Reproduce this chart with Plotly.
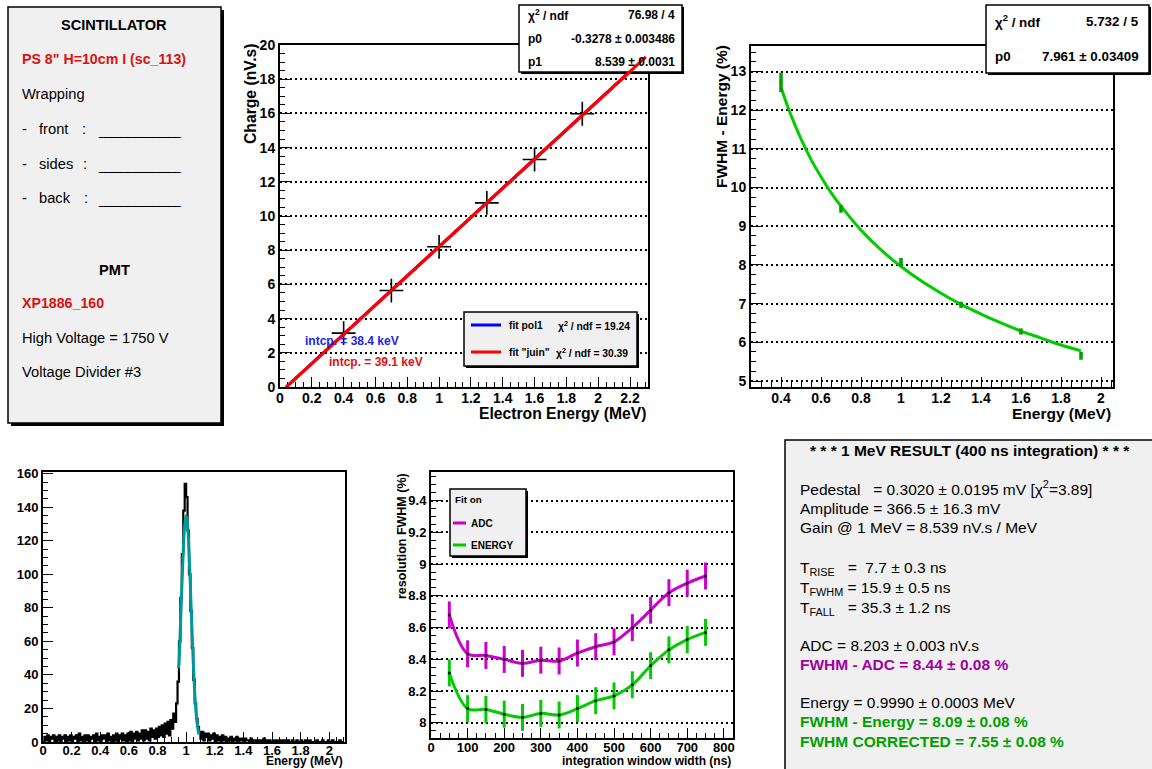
import plotly.graph_objects as go

W, H = 1152, 769
FONT = "Liberation Sans, Arial, Helvetica, sans-serif"

# ---------------- data: charge vs electron energy ----------------
calib_energy = [0.4, 0.7, 1.0, 1.3, 1.6, 1.9]
calib_charge = [3.15, 5.64, 8.20, 10.77, 13.30, 15.98]
fit_pol1_x = [0.0384, 2.30]
fit_pol1_y = [0.0, 19.31]
fit_juin_x = [0.0391, 2.30]
fit_juin_y = [0.0, 19.31]

# ---------------- data: resolution vs energy ----------------
res_energy = [0.4, 0.7, 1.0, 1.3, 1.6, 1.9]
res_fwhm = [12.72, 9.45, 8.07, 6.97, 6.28, 5.65]
res_err = [0.25, 0.10, 0.11, 0.08, 0.08, 0.10]
res_fit_x = [0.4, 0.45, 0.5, 0.55, 0.6, 0.65, 0.7, 0.8, 0.9, 1.0,
             1.1, 1.2, 1.3, 1.4, 1.5, 1.6, 1.7, 1.8, 1.9]
res_fit_y = [12.59, 11.87, 11.26, 10.73, 10.28, 9.87, 9.52, 8.90, 8.39, 7.96,
             7.59, 7.27, 6.98, 6.73, 6.50, 6.29, 6.11, 5.93, 5.78]

# ---------------- data: energy spectrum (bins of 0.01 MeV from 0) ----------------
spec_bin = 0.01
spec_counts = [
    0, 3, 1, 4, 0, 3, 2, 4, 0, 3,
    1, 4, 0, 3, 2, 4, 0, 3, 1, 4,
    0, 3, 2, 4, 0, 5, 1, 3, 0, 4,
    1, 4, 0, 3, 2, 4, 0, 5, 1, 3,
    0, 4, 2, 4, 0, 5, 1, 3, 0, 4,
    1, 5, 0, 4, 2, 5, 1, 4, 0, 5,
    1, 6, 0, 5, 2, 6, 1, 5, 2, 7,
    1, 7, 2, 6, 1, 8, 3, 7, 2, 8,
    3, 9, 4, 10, 3, 11, 5, 12, 4, 13,
    8, 17, 12, 23, 36, 60, 86, 112, 138, 154,
    146, 126, 100, 78, 56, 37, 23, 14, 9, 6,
    2, 6, 1, 5, 3, 5, 1, 4, 2, 5,
    0, 4, 1, 3, 0, 4, 1, 3, 0, 2,
    1, 3, 0, 2, 1, 3, 0, 2, 1, 2,
    0, 2, 1, 1, 0, 2, 0, 1, 1, 0,
    1, 0, 1, 0, 2, 0, 1, 0, 1, 0,
    0, 1, 0, 1, 0, 0, 1, 0, 1, 0,
    0, 1, 0, 0, 1, 0, 0, 1, 0, 0,
    1, 0, 0, 1, 0, 0, 1, 0, 0, 0,
    0, 1, 0, 0, 0, 1, 0, 0, 0, 1,
    0, 0, 1, 0, 0, 0, 0, 1, 0, 0,
]
gauss_x = [0.946, 0.95, 0.96, 0.97, 0.98, 0.99, 1.00, 1.01, 1.02, 1.03,
           1.04, 1.05, 1.06, 1.07, 1.08, 1.09]
gauss_y = [44, 47, 68.7, 92.3, 114, 129.4, 135, 129.4, 114, 92.3,
           68.7, 47, 29.5, 17.0, 9.0, 4.4]

# ---------------- data: resolution vs integration window ----------------
window_ns = [50, 100, 150, 200, 250, 300, 350, 400, 450, 500, 550, 600, 650, 700, 750]
fwhm_adc = [8.68, 8.435, 8.425, 8.40, 8.375, 8.395, 8.39, 8.44, 8.48, 8.51,
            8.60, 8.71, 8.82, 8.88, 8.925]
fwhm_energy = [8.315, 8.09, 8.085, 8.055, 8.035, 8.06, 8.05, 8.09, 8.14, 8.17,
               8.24, 8.36, 8.46, 8.525, 8.57]
fwhm_err = [0.085] * 15

# ---------------- colours ----------------
RED_TXT = "#dd1111"
BLUE_TXT = "#2222ee"
MAG = "#cc00cc"
MAG_TXT = "#a000a0"
GRN = "#00cc00"
GRN_DARK = "#00a000"
CYAN = "#009999"


def X(px):
    return px / W


def Y(py):
    return 1 - py / H


fig = go.Figure()

# panel: charge
fig.add_trace(go.Scatter(x=fit_pol1_x, y=fit_pol1_y, mode="lines",
                         line=dict(color="#0000ff", width=3), xaxis="x", yaxis="y"))
fig.add_trace(go.Scatter(x=fit_juin_x, y=fit_juin_y, mode="lines",
                         line=dict(color="#ff0000", width=3), xaxis="x", yaxis="y"))
fig.add_trace(go.Scatter(x=calib_energy, y=calib_charge, mode="markers",
                         marker=dict(symbol="cross-thin", size=17,
                                     line=dict(color="black", width=1.6)),
                         xaxis="x", yaxis="y"))

# panel: resolution vs energy
fig.add_trace(go.Scatter(x=res_fit_x, y=res_fit_y, mode="lines",
                         line=dict(color=GRN, width=3, shape="spline"),
                         xaxis="x2", yaxis="y2"))
fig.add_trace(go.Scatter(x=res_energy, y=res_fwhm, mode="markers",
                         marker=dict(size=3, color=GRN_DARK),
                         error_y=dict(type="data", array=res_err, color=GRN_DARK,
                                      thickness=3.5, width=0),
                         xaxis="x2", yaxis="y2"))

# panel: spectrum
edges = [round(i * spec_bin, 4) for i in range(len(spec_counts) + 1)]
fig.add_trace(go.Scatter(x=edges, y=spec_counts + [spec_counts[-1]], mode="lines",
                         line=dict(color="black", width=2.2, shape="hv"),
                         xaxis="x3", yaxis="y3"))
fig.add_trace(go.Scatter(x=gauss_x, y=gauss_y, mode="lines",
                         line=dict(color=CYAN, width=3, shape="spline"),
                         xaxis="x3", yaxis="y3"))

# panel: integration window
for vals, col in ((fwhm_adc, MAG), (fwhm_energy, GRN)):
    fig.add_trace(go.Scatter(x=window_ns, y=vals, mode="lines",
                             line=dict(color=col, width=3, shape="spline", smoothing=1),
                             xaxis="x4", yaxis="y4"))
    fig.add_trace(go.Scatter(x=window_ns, y=vals, mode="markers",
                             marker=dict(size=3, color="black"),
                             error_y=dict(type="data", array=fwhm_err, color=col,
                                          thickness=3, width=0),
                             xaxis="x4", yaxis="y4"))


def axis(domain, rng, dtick, minor_dtick, size, anchor, grid=False, tick0=0, standoff=0):
    return dict(domain=domain, range=rng, dtick=dtick, tick0=tick0, anchor=anchor,
                automargin=False, ticklabelstandoff=standoff,
                showline=True, linecolor="black", linewidth=2, mirror=True,
                ticks="inside", ticklen=10, tickwidth=1.2, tickcolor="black",
                minor=dict(dtick=minor_dtick, ticks="inside", ticklen=5, tickwidth=1.2,
                           tickcolor="black", showgrid=False),
                showgrid=grid, gridcolor="black", gridwidth=2, griddash="2px,3px",
                zeroline=False, fixedrange=True,
                tickfont=dict(family=FONT, size=size, color="black", weight="bold"))


layout_axes = dict(
    xaxis=axis([X(280), X(648)], [0, 2.313], 0.2, 0.05, 14, "y", standoff=-3),
    yaxis=axis([Y(387), Y(45)], [0, 20], 2, 0.5, 14, "x", grid=True),
    xaxis2=axis([X(751), X(1113)], [0.25, 2.06], 0.2, 0.05, 14, "y2", standoff=-3),
    yaxis2=axis([Y(387), Y(46)], [4.845, 13.66], 1, 0.25, 14, "x2", grid=True),
    xaxis3=axis([X(43), X(345)], [0, 2.11], 0.2, 0.05, 13, "y3", standoff=-5),
    yaxis3=axis([Y(742), Y(472)], [0, 161], 20, 5, 13, "x3"),
    xaxis4=axis([X(431), X(733)], [0, 825], 100, 25, 13, "y4", standoff=-4),
    yaxis4=axis([Y(738), Y(472)], [7.905, 9.58], 0.2, 0.05, 13, "x4", grid=True),
)

shapes = []


def box(x0, y0, x1, y1, fill, shadow=2, lw=1.5):
    if shadow:
        shapes.append(dict(type="rect", xref="paper", yref="paper",
                           x0=X(x0 + shadow), x1=X(x1 + shadow), y0=Y(y1 + shadow), y1=Y(y0 + shadow),
                           fillcolor="black", line=dict(width=0), layer="above"))
    shapes.append(dict(type="rect", xref="paper", yref="paper",
                       x0=X(x0), x1=X(x1), y0=Y(y1), y1=Y(y0),
                       fillcolor=fill, line=dict(color="black", width=lw), layer="above"))


def seg(x0, x1, y, color, width=3):
    shapes.append(dict(type="line", xref="paper", yref="paper",
                       x0=X(x0), x1=X(x1), y0=Y(y), y1=Y(y),
                       line=dict(color=color, width=width), layer="above"))


# info box (left)
box(8, 7, 221, 423, "#f0f0f0", shadow=3)
# results box (bottom right)
box(785, 440, 1165, 790, "#f0f0f0", shadow=0)
# stats boxes
box(519, 5, 682, 72, "white", shadow=2)
box(986, 5, 1149, 73, "white", shadow=2)
# red fit line passes over the stats box
shapes.append(dict(type="line", xref="x", yref="y",
                   x0=fit_juin_x[0], y0=fit_juin_y[0], x1=fit_juin_x[1], y1=fit_juin_y[1],
                   line=dict(color="#ff0000", width=3), layer="above"))
# legend boxes
box(464, 312, 637, 366, "#f0f0f0", shadow=2)
seg(471, 501, 325, "#0000ff")
seg(471, 501, 352, "#ff0000")
box(450, 489, 526, 556, "#f0f0f0", shadow=2)
seg(453, 466, 523, MAG)
seg(453, 466, 545, GRN)

annotations = []


def txt(x, y, text, size, color="black", xanchor="left", bold=False, angle=0):
    annotations.append(dict(x=X(x), y=Y(y), xref="paper", yref="paper", text=text,
                            showarrow=False, xanchor=xanchor, yanchor="middle",
                            textangle=angle,
                            font=dict(family=FONT, size=size, color=color,
                                      weight="bold" if bold else "normal")))


NB = "\u00a0"

# left info box
txt(114, 25, "SCINTILLATOR", 14.6, bold=True, xanchor="center")
txt(20, 59, 'PS 8" H=10cm I (sc_113)', 14.2, color=RED_TXT, bold=True)
txt(20, 94, "Wrapping", 14.7)
for yy, word, cx in ((129, "front", 80), (164, "sides", 81), (198, "back", 82)):
    txt(20, yy, "-", 14.7)
    txt(37, yy, word, 14.7)
    txt(cx, yy, ":", 14.7)
    txt(96, yy + 1, "__________", 14.7)
txt(114, 270, "PMT", 14.6, bold=True, xanchor="center")
txt(20, 303, "XP1886_160", 14.2, color=RED_TXT, bold=True)
txt(20, 338, "High Voltage = 1750 V", 14.7)
txt(20, 372, "Voltage Divider #3", 14.7)

# charge panel texts
txt(526, 15, "χ<sup>2</sup> / ndf", 12, bold=True)
txt(677, 15, "76.98 / 4", 12, bold=True, xanchor="right")
txt(526, 39, "p0", 12, bold=True)
txt(677, 39, "-0.3278 ± 0.003486", 12, bold=True, xanchor="right")
txt(526, 62, "p1", 12, bold=True)
txt(677, 62, "8.539 ± 0.0031", 12, bold=True, xanchor="right")
txt(507, 325, "fit pol1", 10.3, bold=True)
txt(556, 325, "χ<sup>2</sup> / ndf = 19.24", 10.3, bold=True)
txt(507, 352, 'fit "juin"', 10.3, bold=True)
txt(554, 352, "χ<sup>2</sup> / ndf = 30.39", 10.3, bold=True)
txt(303, 341, "intcp. = 38.4 keV", 12, color=BLUE_TXT, bold=True)
txt(327, 362, "intcp. = 39.1 keV", 12, color=RED_TXT, bold=True)
txt(648, 414, "Electron Energy (MeV)", 15.7, bold=True, xanchor="right")
txt(250, 94, "Charge (nV.s)", 15.7, bold=True, xanchor="center", angle=-90)

# resolution vs energy texts
txt(993, 22, "χ<sup>2</sup> / ndf", 13.4, bold=True)
txt(1141, 22, "5.732 / 5", 13.4, bold=True, xanchor="right")
txt(993, 57, "p0", 13.4, bold=True)
txt(1141, 57, "7.961 ± 0.03409", 13.4, bold=True, xanchor="right")
txt(1113, 414, "Energy (MeV)", 15.5, bold=True, xanchor="right")
txt(722, 117, "FWHM - Energy (%)", 15.5, bold=True, xanchor="center", angle=-90)

# spectrum texts
txt(345, 761, "Energy (MeV)", 12, bold=True, xanchor="right")

# integration window texts
txt(453, 499, "Fit on", 9.8, bold=True)
txt(469, 523, "ADC", 10, bold=True)
txt(469, 545, "ENERGY", 10, bold=True)
txt(733, 761, "integration window width (ns)", 12, bold=True, xanchor="right")
txt(402, 536, "resolution FWHM (%)", 12.5, bold=True, xanchor="center", angle=-90)

# results box
txt(970, 450, "* * * 1 MeV RESULT (400 ns integration) * * *", 15.5, bold=True, xanchor="center")
txt(798, 488, "Pedestal" + NB * 3 + "= 0.3020 ± 0.0195 mV [χ<sup>2</sup>=3.89]", 15.5)
txt(798, 508, "Amplitude = 366.5 ± 16.3 mV", 15.5)
txt(798, 527, "Gain @ 1 MeV = 8.539 nV.s / MeV", 15.5)
txt(798, 568, "T<sub>RISE</sub>" + NB * 3 + "=" + NB * 2 + "7.7 ± 0.3 ns", 15.5)
txt(798, 588, "T<sub>FWHM</sub> = 15.9 ± 0.5 ns", 15.5)
txt(798, 608, "T<sub>FALL</sub>" + NB * 3 + "= 35.3 ± 1.2 ns", 15.5)
txt(798, 645, "ADC = 8.203 ± 0.003 nV.s", 15.5)
txt(798, 664, "FWHM - ADC = 8.44 ± 0.08 %", 15.5, color=MAG_TXT, bold=True)
txt(798, 702, "Energy = 0.9990 ± 0.0003 MeV", 15.5)
txt(798, 721, "FWHM - Energy = 8.09 ± 0.08 %", 15.5, color=GRN_DARK, bold=True)
txt(798, 741, "FWHM CORRECTED = 7.55 ± 0.08 %", 15.5, color=GRN_DARK, bold=True)

fig.update_layout(
    width=W, height=H, margin=dict(l=0, r=0, t=0, b=0, autoexpand=False),
    paper_bgcolor="white", plot_bgcolor="white",
    showlegend=False, shapes=shapes, annotations=annotations,
    font=dict(family=FONT, color="black"),
    **layout_axes,
)

fig.write_html("out.html", config={"displayModeBar": False},
               post_script="document.body.style.margin='0px';document.body.style.overflow='hidden';")
